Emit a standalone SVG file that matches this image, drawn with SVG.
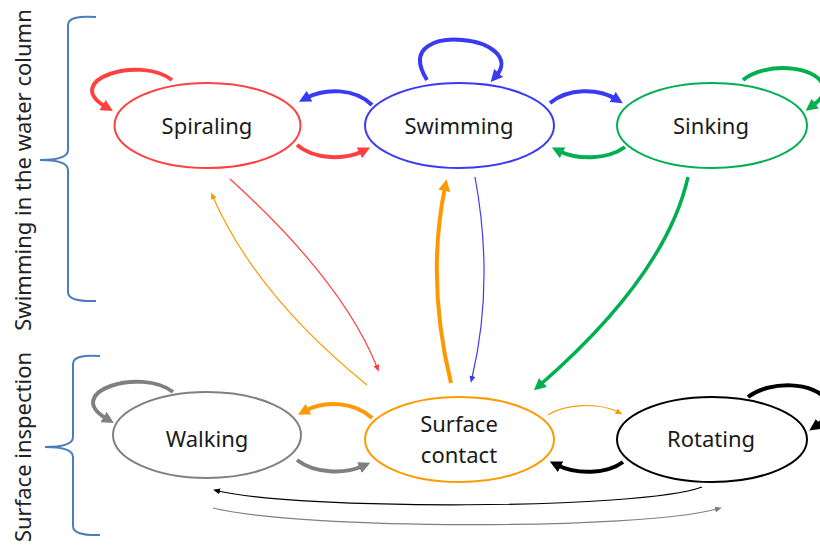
<svg xmlns="http://www.w3.org/2000/svg" width="820" height="550" viewBox="0 0 820 550">
  <style>
    .node { fill: #ffffff; stroke-width: 2; }
    .label { font-family: "Noto Sans", "Open Sans", sans-serif; font-size: 22px; fill: #1a1a1a; text-anchor: middle; }
    .side { font-family: "Noto Sans", "Open Sans", sans-serif; font-size: 22px; fill: #222222; text-anchor: middle; }
    .brace { fill: none; stroke: #4a7ebb; stroke-width: 2; }
    .edge { fill: none; stroke-linecap: butt; }
    .thick { stroke-width: 4; }
    .thin { stroke-width: 1.2; }
    .red { stroke: #ff4040; }
    .blue { stroke: #3a3af5; }
    .green { stroke: #00b050; }
    .orange { stroke: #ff9900; }
    .gray { stroke: #808080; }
    .black { stroke: #000000; }
  </style>
  <defs>
    <!-- thick arrowheads: tip sits 8px beyond the path end -->
    <marker id="hRed" viewBox="0 0 12 12" markerUnits="userSpaceOnUse" markerWidth="12" markerHeight="12" refX="4" refY="6" orient="auto"><path d="M0,0 L12,6 L0,12 z" fill="#ff4040"/></marker>
    <marker id="hBlue" viewBox="0 0 12 12" markerUnits="userSpaceOnUse" markerWidth="12" markerHeight="12" refX="4" refY="6" orient="auto"><path d="M0,0 L12,6 L0,12 z" fill="#3a3af5"/></marker>
    <marker id="hGreen" viewBox="0 0 12 12" markerUnits="userSpaceOnUse" markerWidth="12" markerHeight="12" refX="4" refY="6" orient="auto"><path d="M0,0 L12,6 L0,12 z" fill="#00b050"/></marker>
    <marker id="hOrange" viewBox="0 0 12 12" markerUnits="userSpaceOnUse" markerWidth="12" markerHeight="12" refX="4" refY="6" orient="auto"><path d="M0,0 L12,6 L0,12 z" fill="#ff9900"/></marker>
    <marker id="hGray" viewBox="0 0 12 12" markerUnits="userSpaceOnUse" markerWidth="12" markerHeight="12" refX="4" refY="6" orient="auto"><path d="M0,0 L12,6 L0,12 z" fill="#808080"/></marker>
    <marker id="hBlack" viewBox="0 0 12 12" markerUnits="userSpaceOnUse" markerWidth="12" markerHeight="12" refX="4" refY="6" orient="auto"><path d="M0,0 L12,6 L0,12 z" fill="#000000"/></marker>
    <!-- thin arrowheads -->
    <marker id="tRed" viewBox="0 0 7 6" markerUnits="userSpaceOnUse" markerWidth="7" markerHeight="6" refX="2" refY="3" orient="auto"><path d="M0,0 L7,3 L0,6 z" fill="#ff4040"/></marker>
    <marker id="tBlue" viewBox="0 0 7 6" markerUnits="userSpaceOnUse" markerWidth="7" markerHeight="6" refX="2" refY="3" orient="auto"><path d="M0,0 L7,3 L0,6 z" fill="#3a3af5"/></marker>
    <marker id="tOrange" viewBox="0 0 7 6" markerUnits="userSpaceOnUse" markerWidth="7" markerHeight="6" refX="2" refY="3" orient="auto"><path d="M0,0 L7,3 L0,6 z" fill="#ff9900"/></marker>
    <marker id="tGray" viewBox="0 0 7 6" markerUnits="userSpaceOnUse" markerWidth="7" markerHeight="6" refX="2" refY="3" orient="auto"><path d="M0,0 L7,3 L0,6 z" fill="#808080"/></marker>
    <marker id="tBlack" viewBox="0 0 7 6" markerUnits="userSpaceOnUse" markerWidth="7" markerHeight="6" refX="2" refY="3" orient="auto"><path d="M0,0 L7,3 L0,6 z" fill="#000000"/></marker>
  </defs>

  <!-- group braces and their labels -->
  <g id="group-water">
    <path class="brace" d="M96,17 Q68,15 68,25 L68,150 Q68,160 40,160 Q68,160 68,170 L68,292 Q68,302 96,301"/>
    <text class="side" transform="translate(31,170) rotate(-90)">Swimming in the water column</text>
  </g>
  <g id="group-surface">
    <path class="brace" d="M100,356 Q73,354 73,364 L73,437 Q73,447 45,447 Q73,447 73,457 L73,526 Q73,536 100,535"/>
    <text class="side" transform="translate(31,447) rotate(-90)">Surface inspection</text>
  </g>

  <!-- states -->
  <g id="spiraling">
    <ellipse class="node" cx="207.5" cy="125.5" rx="93" ry="42.5" stroke="#ff4040"/>
    <text class="label" x="207" y="134">Spiraling</text>
  </g>
  <g id="swimming">
    <ellipse class="node" cx="459.5" cy="125.5" rx="94.5" ry="42.5" stroke="#3a3af5"/>
    <text class="label" x="459" y="134">Swimming</text>
  </g>
  <g id="sinking">
    <ellipse class="node" cx="712" cy="125.5" rx="95" ry="42.5" stroke="#00b050"/>
    <text class="label" x="711" y="134">Sinking</text>
  </g>
  <g id="walking">
    <ellipse class="node" cx="207" cy="435" rx="94" ry="43" stroke="#808080"/>
    <text class="label" x="207" y="447">Walking</text>
  </g>
  <g id="surface-contact">
    <ellipse class="node" cx="459.5" cy="439.5" rx="94.5" ry="42.5" stroke="#ff9900"/>
    <text class="label" x="459" y="432">Surface</text>
    <text class="label" x="459" y="463">contact</text>
  </g>
  <g id="rotating">
    <ellipse class="node" cx="712" cy="439.5" rx="95" ry="42.5" stroke="#000000"/>
    <text class="label" x="711" y="447">Rotating</text>
  </g>

  <!-- transitions -->
  <g id="connectors">
    <!-- self loops -->
    <path class="edge thick red" d="M172,80 C140,55 60,80 106,107" marker-end="url(#hRed)"/>
    <path class="edge thick blue" d="M427,80 C405,45 440,38 462,40 C490,42 512,58 496,76" marker-end="url(#hBlue)"/>
    <path class="edge thick green" d="M743,80 C765,62 815,65 823,85 C826,95 820,100 812,106" marker-end="url(#hGreen)"/>
    <path class="edge thick gray" d="M173,392 C141,367 61,392 107,419" marker-end="url(#hGray)"/>
    <path class="edge thick black" d="M748,397 C770,380 815,382 826,400 C832,412 825,420 816,426" marker-end="url(#hBlack)"/>

    <!-- neighbours in the water column -->
    <path class="edge thick blue" d="M372,105 C355,88 325,88 306,98" marker-end="url(#hBlue)"/>
    <path class="edge thick red" d="M297,145 C315,160 345,160 363,151" marker-end="url(#hRed)"/>
    <path class="edge thick blue" d="M550,103 C568,88 598,88 616,99" marker-end="url(#hBlue)"/>
    <path class="edge thick green" d="M625,147 C607,160 577,160 559,151" marker-end="url(#hGreen)"/>

    <!-- neighbours on the surface -->
    <path class="edge thick orange" d="M372,418 C355,402 325,400 305,411" marker-end="url(#hOrange)"/>
    <path class="edge thick gray" d="M297,460 C315,474 345,474 363,466" marker-end="url(#hGray)"/>
    <path class="edge thin orange" d="M548,415 C565,404 598,402 618,412" marker-end="url(#tOrange)"/>
    <path class="edge thick black" d="M623,462 C607,474 577,475 557,465" marker-end="url(#hBlack)"/>

    <!-- long bottom links -->
    <path class="edge thin black" d="M702,487 C640,510 300,510 218,491" marker-end="url(#tBlack)"/>
    <path class="edge thin gray" d="M213,508 C300,530 640,530 717,509" marker-end="url(#tGray)"/>

    <!-- between water column and surface -->
    <path class="edge thin red" d="M230,179 Q342.5,281 377,367" marker-end="url(#tRed)"/>
    <path class="edge thin orange" d="M367,385 Q256,295 213,197" marker-end="url(#tOrange)"/>
    <path class="edge thick orange" d="M451,383 Q426,281 445,187" marker-end="url(#hOrange)"/>
    <path class="edge thin blue" d="M475,177 Q494.5,282.5 472,378" marker-end="url(#tBlue)"/>
    <path class="edge thick green" style="stroke-width:3.5" d="M688,177 Q666,275 540,385" marker-end="url(#hGreen)"/>
  </g>
</svg>
